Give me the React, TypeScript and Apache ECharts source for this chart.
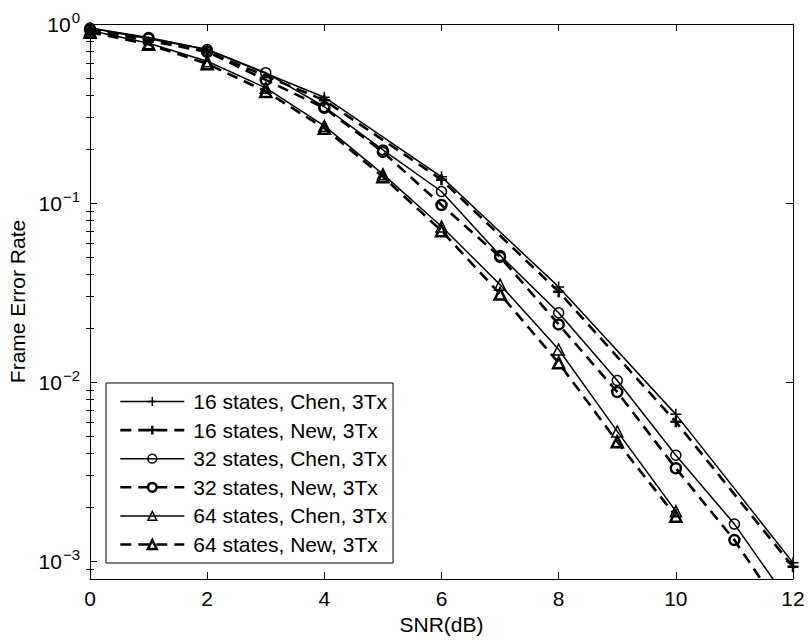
import React, { useEffect, useRef } from 'react';
import * as echarts from 'echarts';

// SNR (dB) positions for each family of curves
const snr16 = [0, 2, 4, 6, 8, 10, 12];
const snr32 = [0, 1, 2, 3, 4, 5, 6, 7, 8, 9, 10, 11, 12];
const snr64 = [0, 1, 2, 3, 4, 5, 6, 7, 8, 9, 10];

// Frame error rates
const fer16Chen = [0.95, 0.72, 0.39, 0.14, 0.034, 0.0066, 0.00098];
const fer16New = [0.93, 0.70, 0.375, 0.135, 0.032, 0.0060, 0.00093];
const fer32Chen = [0.95, 0.84, 0.72, 0.535, 0.345, 0.198, 0.116, 0.051, 0.0244, 0.0102, 0.0039, 0.00161, 0.00055];
const fer32New = [0.93, 0.83, 0.70, 0.487, 0.34, 0.193, 0.0975, 0.050, 0.021, 0.0088, 0.0033, 0.00131, 0.00043];
const fer64Chen = [0.92, 0.78, 0.62, 0.44, 0.27, 0.145, 0.074, 0.035, 0.0152, 0.0053, 0.0019];
const fer64New = [0.90, 0.77, 0.60, 0.42, 0.262, 0.14, 0.070, 0.031, 0.0128, 0.00464, 0.00178];

const seriesNames = [
  '16 states, Chen, 3Tx',
  '16 states, New, 3Tx',
  '32 states, Chen, 3Tx',
  '32 states, New, 3Tx',
  '64 states, Chen, 3Tx',
  '64 states, New, 3Tx',
];

const yMajorTicks = [0.001, 0.01, 0.1, 1];
const yMin = Math.pow(10, -3.1);
const yMax = 1;

const yMinorTicks: number[] = [];
for (let e = -4; e <= -1; e++) {
  for (let m = 2; m <= 9; m++) {
    const v = m * Math.pow(10, e);
    if (v >= yMin * 1.05 && v < yMax) yMinorTicks.push(v);
  }
}

const FONT = '"Liberation Sans", Arial, Helvetica, sans-serif';
const FS = 21;

const SYM_PLUS = 'path://M0,5L10,5M5,0L5,10';
const SYM_CIRCLE = 'path://M0,5A5,5,0,1,1,10,5A5,5,0,1,1,0,5Z';
const SYM_TRI = 'path://M5,0L10,9L0,9Z';

function mkSeries(name: string, xs: number[], ys: number[], symbol: string, dashed: boolean, size: number) {
  return {
    name,
    type: 'line',
    data: xs.map((x, i) => [x, ys[i]]),
    xAxisIndex: 0,
    yAxisIndex: 0,
    symbol,
    symbolSize: size,
    showSymbol: true,
    clip: true,
    lineStyle: { color: '#000', width: dashed ? 2.6 : 1.5, type: dashed ? [11, 7] : 'solid' },
    itemStyle: { color: 'rgba(0,0,0,0)', borderColor: '#000', borderWidth: dashed ? 2.5 : 1.5 },
    emphasis: { disabled: true },
  };
}

function supLabel(v: number) {
  const e = Math.round(Math.log10(v));
  const s = e < 0 ? '\u2212' + -e : String(e);
  return '{b|10}{s|' + s + '}';
}

export default function App() {
  const ref = useRef<HTMLDivElement>(null);
  useEffect(() => {
    if (!ref.current) return;
    const chart = echarts.init(ref.current, null, { renderer: 'svg' });
    const tickStyle = { color: '#000', width: 1 };
    const logBase = {
      type: 'log',
      logBase: 10,
      min: yMin,
      max: yMax,
      splitLine: { show: false },
      minorTick: { show: false },
      minorSplitLine: { show: false },
    };
    chart.setOption({
      animation: false,
      backgroundColor: '#fff',
      textStyle: { fontFamily: FONT },
      grid: { left: 90, right: 18, top: 24, bottom: 65, containLabel: false, outerBoundsMode: 'none' },
      legend: {
        orient: 'vertical',
        left: 106,
        top: 383,
        data: seriesNames,
        itemWidth: 64,
        itemHeight: 11,
        itemGap: 7.6,
        padding: [8, 6, 8, 13],
        borderColor: '#000',
        borderWidth: 1,
        borderRadius: 0,
        backgroundColor: '#fff',
        selectedMode: false,
        lineStyle: { width: 'inherit' },
        itemStyle: { borderWidth: 'inherit' },
        textStyle: { fontSize: FS, fontFamily: FONT, color: '#000', padding: [0, 0, 0, 4] },
      },
      xAxis: [
        {
          type: 'value',
          min: 0,
          max: 12,
          interval: 2,
          position: 'bottom',
          axisLine: { show: true, onZero: false, lineStyle: tickStyle },
          axisTick: { show: true, inside: true, length: 7, lineStyle: tickStyle },
          axisLabel: { color: '#000', fontSize: FS, fontFamily: FONT, margin: 9 },
          splitLine: { show: false },
          name: 'SNR(dB)',
          nameLocation: 'middle',
          nameGap: 30,
          nameTextStyle: { color: '#000', fontSize: FS, fontFamily: FONT },
        },
        {
          type: 'value',
          min: 0,
          max: 12,
          interval: 2,
          position: 'top',
          axisLine: { show: true, onZero: false, lineStyle: tickStyle },
          axisTick: { show: true, inside: true, length: 7, lineStyle: tickStyle },
          axisLabel: { show: false },
          splitLine: { show: false },
        },
      ],
      yAxis: [
        {
          ...logBase,
          position: 'left',
          axisLine: { show: true, onZero: false, lineStyle: tickStyle },
          axisTick: { show: true, inside: true, length: 7, lineStyle: tickStyle, customValues: yMajorTicks },
          axisLabel: {
            show: true,
            margin: 10,
            customValues: yMajorTicks,
            formatter: supLabel,
            rich: {
              b: { fontSize: FS, fontFamily: FONT, color: '#000', verticalAlign: 'bottom', lineHeight: FS },
              s: { fontSize: 15, fontFamily: FONT, color: '#000', verticalAlign: 'bottom', lineHeight: 15, padding: [0, 0, 10, 1] },
            },
          },
          name: 'Frame Error Rate',
          nameLocation: 'middle',
          nameGap: 53,
          nameTextStyle: { color: '#000', fontSize: FS, fontFamily: FONT },
        },
        {
          ...logBase,
          position: 'left',
          axisLine: { show: false },
          axisTick: { show: true, inside: true, length: 4, lineStyle: tickStyle, customValues: yMinorTicks },
          axisLabel: { show: false },
        },
        {
          ...logBase,
          position: 'right',
          axisLine: { show: true, onZero: false, lineStyle: tickStyle },
          axisTick: { show: true, inside: true, length: 7, lineStyle: tickStyle, customValues: yMajorTicks },
          axisLabel: { show: false },
        },
        {
          ...logBase,
          position: 'right',
          axisLine: { show: false },
          axisTick: { show: true, inside: true, length: 4, lineStyle: tickStyle, customValues: yMinorTicks },
          axisLabel: { show: false },
        },
      ],
      series: [
        mkSeries(seriesNames[0], snr16, fer16Chen, SYM_PLUS, false, 11),
        mkSeries(seriesNames[1], snr16, fer16New, SYM_PLUS, true, 11),
        mkSeries(seriesNames[2], snr32, fer32Chen, SYM_CIRCLE, false, 10),
        mkSeries(seriesNames[3], snr32, fer32New, SYM_CIRCLE, true, 10),
        mkSeries(seriesNames[4], snr64, fer64Chen, SYM_TRI, false, 11),
        mkSeries(seriesNames[5], snr64, fer64New, SYM_TRI, true, 11),
      ],
    });
    return () => chart.dispose();
  }, []);
  return (
    <div
      ref={ref}
      style={{ position: 'fixed', left: 0, top: 0, width: 811, height: 644, background: '#fff' }}
    />
  );
}
